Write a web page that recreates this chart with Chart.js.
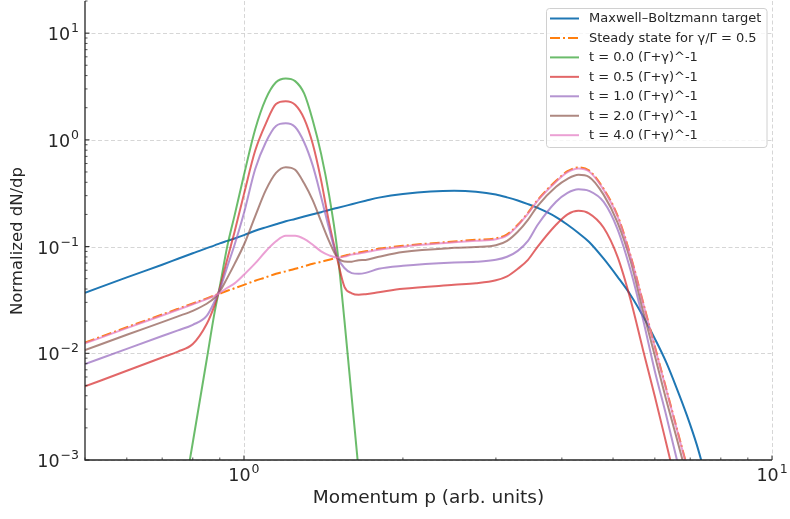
<!DOCTYPE html>
<html>
<head>
<meta charset="utf-8">
<script src="https://cdn.jsdelivr.net/npm/chart.js@4.4.1/dist/chart.umd.min.js"></script>
<style>
  html, body { margin: 0; padding: 0; background: #fff; }
  canvas { display: block; }
</style>
</head>
<body>
<canvas id="chart" width="790" height="519"></canvas>
<script>
// ------------------------------------------------------------
// Values (log-log plot)
// ------------------------------------------------------------
const momentum = [0.5, 0.6, 0.7, 0.75, 0.8, 0.85, 0.88, 0.9, 0.93, 0.96,
  1.0, 1.05, 1.1, 1.15, 1.2, 1.25, 1.3, 1.35, 1.4, 1.45,
  1.5, 1.55, 1.6, 1.65, 1.7, 1.8, 2.0, 2.5, 2.75, 3.0,
  3.15, 3.3, 3.45, 3.6, 3.9, 4.1, 4.3, 4.5, 4.8, 5.1,
  5.4, 5.7, 6.0, 6.3, 6.6, 6.9, 7.2, 7.5, 8.0];

const mbTarget = [0.0369, 0.0515, 0.0676, 0.0768, 0.0865, 0.0967, 0.1027, 0.1072, 0.113, 0.119,
  0.128, 0.1405, 0.1514, 0.162, 0.1725, 0.1815, 0.191, 0.2005, 0.21, 0.2205,
  0.2296, 0.2393, 0.2495, 0.2595, 0.269, 0.2875, 0.311, 0.333, 0.326, 0.307,
  0.289, 0.27, 0.25, 0.230, 0.189, 0.160, 0.134, 0.111, 0.077, 0.052,
  0.0350, 0.0222, 0.0137, 0.0083, 0.0047, 0.00262, 0.00140, 0.00068, 0.0002];

const steadyState = [0.01262, 0.01753, 0.02307, 0.0261, 0.0293, 0.0327, 0.0349, 0.0362, 0.0385, 0.0407,
  0.0438, 0.0478, 0.0515, 0.0556, 0.0586, 0.0619, 0.0653, 0.0689, 0.072, 0.0751,
  0.0785, 0.0819, 0.0855, 0.0878, 0.0902, 0.0952, 0.1016, 0.1115, 0.1157, 0.1195,
  0.130, 0.160, 0.207, 0.274, 0.413, 0.508, 0.551, 0.518, 0.347, 0.195,
  0.0815, 0.030, 0.0116, 0.00472, 0.00199, 0.00088, 0.0004, null, null];

const t00 = [null, null, null, 0.00022, 0.00146, 0.0087, 0.0243, 0.0424, 0.101, 0.196,
  0.468, 1.25, 2.42, 3.46, 3.76, 3.55, 2.72, 1.52, 0.739, 0.302,
  0.099, 0.0202, 0.00383, 0.00076, 0.00015, null, null, null, null, null,
  null, null, null, null, null, null, null, null, null, null,
  null, null, null, null, null, null, null, null, null];

const t05 = [0.00489, 0.00686, 0.00914, 0.01037, 0.0122, 0.0188, 0.0283, 0.0406, 0.0764, 0.138,
  0.310, 0.79, 1.42, 2.17, 2.30, 2.13, 1.58, 0.913, 0.417, 0.166,
  0.079, 0.042, 0.0365, 0.0353, 0.0358, 0.0373, 0.0402, 0.0438, 0.0453, 0.0483,
  0.0526, 0.0619, 0.0751, 0.100, 0.160, 0.2005, 0.216, 0.205, 0.150, 0.080,
  0.0314, 0.0107, 0.00393, 0.00146, 0.00056, null, null, null, null];

const t10 = [0.00792, 0.0110, 0.0145, 0.0164, 0.0185, 0.0224, 0.0307, 0.0395, 0.0649, 0.104,
  0.206, 0.53, 0.95, 1.35, 1.43, 1.32, 0.95, 0.573, 0.292, 0.146,
  0.081, 0.063, 0.0564, 0.0556, 0.0567, 0.0619, 0.066, 0.0709, 0.0719, 0.0751,
  0.0802, 0.0912, 0.113, 0.160, 0.263, 0.319, 0.345, 0.333, 0.262, 0.145,
  0.0593, 0.0206, 0.0068, 0.00265, 0.00102, 0.00041, null, null, null];

const t20 = [0.0107, 0.0149, 0.0196, 0.0222, 0.025, 0.0291, 0.0331, 0.0379, 0.0509, 0.0689,
  0.104, 0.192, 0.338, 0.491, 0.555, 0.524, 0.392, 0.271, 0.172, 0.112,
  0.080, 0.0726, 0.0722, 0.0746, 0.075, 0.0802, 0.0889, 0.0973, 0.0989, 0.1027,
  0.113, 0.1375, 0.178, 0.241, 0.363, 0.431, 0.470, 0.450, 0.305, 0.168,
  0.073, 0.0248, 0.0095, 0.00371, 0.0016, 0.0007, null, null, null];

const t40 = [0.01237, 0.0172, 0.0226, 0.0256, 0.0288, 0.0322, 0.0345, 0.0368, 0.0411, 0.0452,
  0.0545, 0.0695, 0.0905, 0.112, 0.126, 0.126, 0.118, 0.104, 0.0902, 0.0828,
  0.079, 0.0805, 0.084, 0.0862, 0.0885, 0.0935, 0.0998, 0.1095, 0.1135, 0.117,
  0.127, 0.157, 0.203, 0.269, 0.405, 0.498, 0.54, 0.508, 0.34, 0.191,
  0.080, 0.0295, 0.0114, 0.00463, 0.00195, 0.00086, 0.00039, null, null];

const seriesLabels = [
  'Maxwell\u2013Boltzmann target',
  'Steady state for \u03b3/\u0393 = 0.5',
  't = 0.0 (\u0393+\u03b3)^-1',
  't = 0.5 (\u0393+\u03b3)^-1',
  't = 1.0 (\u0393+\u03b3)^-1',
  't = 2.0 (\u0393+\u03b3)^-1',
  't = 4.0 (\u0393+\u03b3)^-1'
];

// tick exponents (labels are 10^exp)
const xTickExps = [0, 1];
const yTickExps = [-3, -2, -1, 0, 1];
const minorSubs = [2, 3, 4, 5, 6, 7, 8, 9];

const X_MIN = 0.5, X_MAX = 10, Y_MIN = 1e-3, Y_MAX = 20;
const FONT = '"DejaVu Sans", "Liberation Sans", sans-serif';
const TEXT = '#262626';

const colors = ['#1f77b4', '#ff7f0e', 'rgba(44,160,44,0.7)', 'rgba(214,39,40,0.7)',
  'rgba(148,103,189,0.7)', 'rgba(140,86,75,0.7)', 'rgba(227,119,194,0.7)'];
const DASHDOT = [10, 3, 2, 3];

const series = [mbTarget, steadyState, t00, t05, t10, t20, t40];

const datasets = series.map((vals, i) => ({
  label: seriesLabels[i],
  data: momentum.map((p, k) => ({ x: p, y: vals[k] })),
  borderColor: colors[i],
  borderWidth: 2,
  borderDash: i === 1 ? DASHDOT : [],
  borderJoinStyle: 'round',
  pointRadius: 0,
  fill: false,
  cubicInterpolationMode: 'monotone',
  order: series.length - i   // later series drawn on top, as in the original
}));

// ------------------------------------------------------------
// Axes, ticks, labels and legend drawn matplotlib-style
// ------------------------------------------------------------
function drawPow(ctx, exp, x, yBase, align) {
  const base = '10';
  const sup = exp < 0 ? '\u2212' + (-exp) : String(exp);
  ctx.font = `17.5px ${FONT}`;
  const wb = ctx.measureText(base).width;
  ctx.font = `12.5px ${FONT}`;
  const ws = ctx.measureText(sup).width;
  const left = align === 'right' ? x - wb - ws - 1 : x - (wb + ws + 1) / 2;
  ctx.textAlign = 'left';
  ctx.textBaseline = 'alphabetic';
  ctx.font = `17.5px ${FONT}`;
  ctx.fillText(base, left, yBase);
  ctx.font = `12.5px ${FONT}`;
  ctx.fillText(sup, left + wb + 1, yBase - 8);
}

function minorValues(min, max) {
  const out = [];
  for (let e = Math.floor(Math.log10(min)); e <= Math.ceil(Math.log10(max)); e++) {
    minorSubs.forEach(s => {
      const v = s * Math.pow(10, e);
      if (v >= min * 0.999 && v <= max * 1.001) out.push(v);
    });
  }
  return out;
}

const mplAxes = {
  id: 'mplAxes',
  beforeDatasetsDraw(chart) {
    const { ctx, chartArea: a, scales: { x, y } } = chart;
    ctx.save();
    ctx.strokeStyle = '#cccccc';
    ctx.lineWidth = 0.8;
    ctx.setLineDash([4, 2.5]);
    xTickExps.forEach(e => {
      const px = Math.round(x.getPixelForValue(Math.pow(10, e))) + 0.5;
      ctx.beginPath(); ctx.moveTo(px, a.top); ctx.lineTo(px, a.bottom); ctx.stroke();
    });
    yTickExps.forEach(e => {
      const py = Math.round(y.getPixelForValue(Math.pow(10, e))) + 0.5;
      ctx.beginPath(); ctx.moveTo(a.left, py); ctx.lineTo(a.right, py); ctx.stroke();
    });
    ctx.restore();
  },
  afterDatasetsDraw(chart) {
    const { ctx, chartArea: a, scales: { x, y } } = chart;
    ctx.save();
    ctx.strokeStyle = TEXT;
    ctx.fillStyle = TEXT;
    ctx.setLineDash([]);

    // spines: left and bottom only
    ctx.lineWidth = 1.3;
    ctx.beginPath();
    ctx.moveTo(a.left, a.top); ctx.lineTo(a.left, a.bottom); ctx.lineTo(a.right, a.bottom);
    ctx.stroke();

    // inward ticks
    ctx.lineWidth = 1;
    xTickExps.forEach(e => {
      const px = x.getPixelForValue(Math.pow(10, e));
      ctx.beginPath(); ctx.moveTo(px, a.bottom); ctx.lineTo(px, a.bottom - 4.5); ctx.stroke();
    });
    yTickExps.forEach(e => {
      const py = y.getPixelForValue(Math.pow(10, e));
      ctx.beginPath(); ctx.moveTo(a.left, py); ctx.lineTo(a.left + 4.5, py); ctx.stroke();
    });
    ctx.lineWidth = 0.8;
    minorValues(X_MIN, X_MAX).forEach(v => {
      const px = x.getPixelForValue(v);
      ctx.beginPath(); ctx.moveTo(px, a.bottom); ctx.lineTo(px, a.bottom - 2.5); ctx.stroke();
    });
    minorValues(Y_MIN, Y_MAX).forEach(v => {
      const py = y.getPixelForValue(v);
      ctx.beginPath(); ctx.moveTo(a.left, py); ctx.lineTo(a.left + 2.5, py); ctx.stroke();
    });

    // tick labels
    xTickExps.forEach(e => drawPow(ctx, e, x.getPixelForValue(Math.pow(10, e)), a.bottom + 21, 'center'));
    yTickExps.forEach(e => drawPow(ctx, e, a.left - 6, y.getPixelForValue(Math.pow(10, e)) + 7, 'right'));

    // axis titles
    ctx.textAlign = 'center';
    ctx.textBaseline = 'middle';
    ctx.font = `18.5px ${FONT}`;
    ctx.fillText('Momentum p (arb. units)', (a.left + a.right) / 2, 498);
    ctx.save();
    ctx.translate(18, 241);
    ctx.rotate(-Math.PI / 2);
    ctx.font = `16.5px ${FONT}`;
    ctx.fillText('Normalized dN/dp', 0, 0);
    ctx.restore();
    ctx.restore();
  },
  afterDraw(chart) {
    const { ctx } = chart;
    const bx = 546.5, by = 8.5, bw = 220.5, bh = 139;
    ctx.save();
    ctx.beginPath();
    ctx.roundRect(bx, by, bw, bh, 3);
    ctx.fillStyle = 'rgba(255,255,255,0.8)';
    ctx.fill();
    ctx.strokeStyle = '#d0d0d0';
    ctx.lineWidth = 1;
    ctx.stroke();
    ctx.font = `13px ${FONT}`;
    ctx.textAlign = 'left';
    ctx.textBaseline = 'middle';
    chart.data.datasets.forEach((ds, i) => {
      const yy = 18.5 + i * 19.45;
      ctx.strokeStyle = ds.borderColor;
      ctx.lineWidth = 2;
      ctx.setLineDash(ds.borderDash || []);
      ctx.beginPath(); ctx.moveTo(550, yy); ctx.lineTo(579, yy); ctx.stroke();
      ctx.setLineDash([]);
      ctx.fillStyle = TEXT;
      ctx.fillText(ds.label, 589, yy + 0.5);
    });
    ctx.restore();
  }
};

new Chart(document.getElementById('chart'), {
  type: 'line',
  data: { datasets },
  options: {
    responsive: false,
    animation: false,
    devicePixelRatio: 1,
    layout: { padding: { left: 85, right: 18, top: 1, bottom: 59 } },
    plugins: { legend: { display: false }, tooltip: { enabled: false } },
    scales: {
      x: { type: 'logarithmic', min: X_MIN, max: X_MAX, display: false },
      y: { type: 'logarithmic', min: Y_MIN, max: Y_MAX, display: false }
    }
  },
  plugins: [mplAxes]
});
</script>
</body>
</html>
